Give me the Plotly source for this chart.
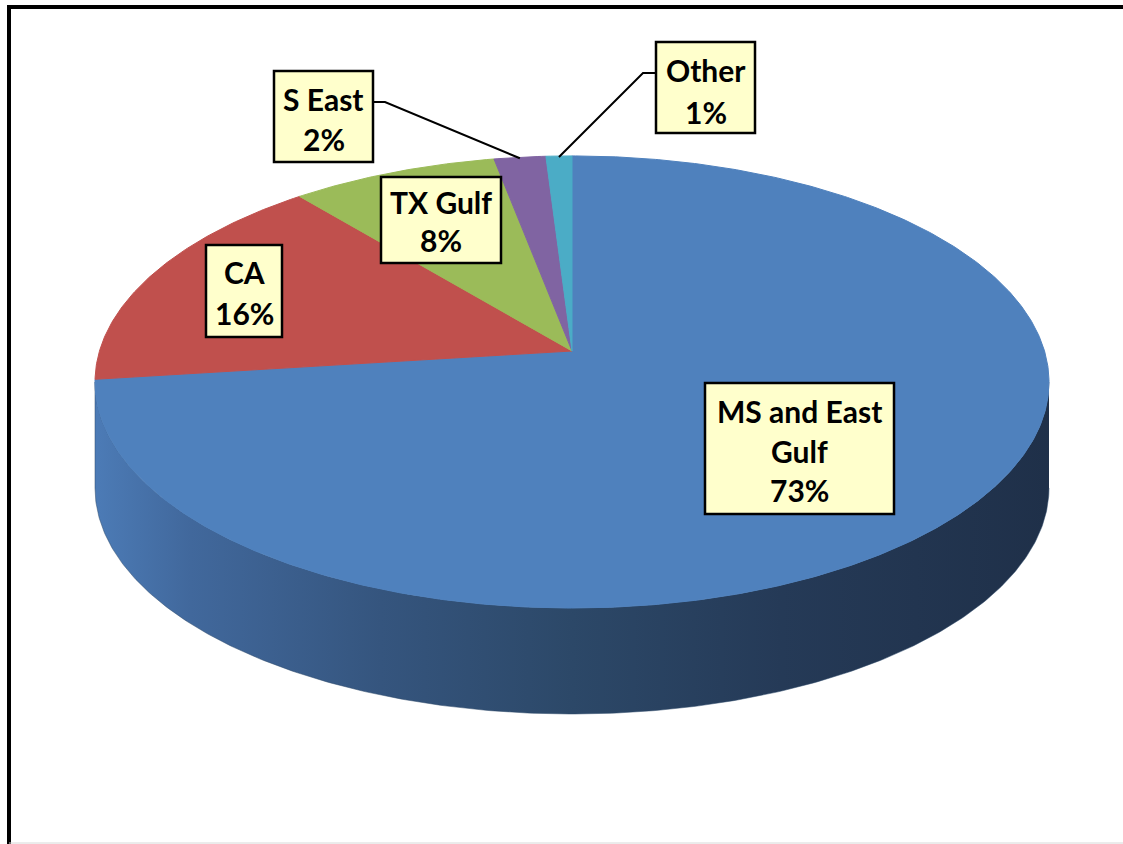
import numpy as np
import plotly.graph_objects as go

# ---------------- data ----------------
categories = ["MS and East Gulf", "CA", "TX Gulf", "S East", "Other"]
values = [73, 16, 8, 2, 1]
colors = ["#4f81bd", "#c0504d", "#9bbb59", "#8064a2", "#4bacc6"]

# label line breaks (layout)
wrapped = {"MS and East Gulf": ["MS and East", "Gulf"]}

# ---------------- geometry (layout constants, pixel space) ----------------
CX, CY = 572.0, 351.0     # apex of the pie on screen
A, B, C = 472.5, 221.8, 0.137  # perspective projection of the unit disc
DEPTH = 106.0

def proj(theta_deg):
    t = np.radians(theta_deg)
    a, b = np.sin(t), np.cos(t)
    w = 1.0 + C * b
    return CX + A * a / w, CY - B * b / w

fig = go.Figure()

# side wall (visible front part)
th_r = np.degrees(np.arccos(-C))
th_l = 360.0 - th_r
ths = np.linspace(th_r, th_l, 300)
sx, sy = proj(ths)
side_x = np.concatenate([sx, sx[::-1]])
side_y = np.concatenate([sy, (sy + DEPTH)[::-1]])
fig.add_trace(go.Scatter(
    x=side_x, y=side_y, mode="lines", fill="toself",
    line=dict(width=0.5, color="#2c4868"),
    fillgradient=dict(type="horizontal", start=float(sx.min()), stop=float(sx.max()),
                      colorscale=[[0.0, "#4c7bb6"], [0.1, "#41689c"], [0.3, "#35557e"],
                                  [0.5, "#2c4868"], [0.72, "#253a57"], [1.0, "#1f3049"]]),
    hoverinfo="skip", showlegend=False))

# top face slices
total = float(sum(values))
cum = 0.0
mids = []
for cat, v, col in zip(categories, values, colors):
    a0 = cum / total * 360.0
    a1 = (cum + v) / total * 360.0
    cum += v
    mids.append((a0 + a1) / 2)
    n = max(int((a1 - a0) * 2), 4)
    px, py = proj(np.linspace(a0, a1, n))
    xs = np.concatenate([[CX], px, [CX]])
    ys = np.concatenate([[CY], py, [CY]])
    fig.add_trace(go.Scatter(
        x=xs, y=ys, mode="lines", fill="toself", fillcolor=col,
        line=dict(width=1, color=col), name=cat,
        hovertemplate=f"{cat}: {v}%<extra></extra>", showlegend=False))

# ---------------- labels (layout positions) ----------------
label_boxes = {
    "MS and East Gulf": (705, 383, 894, 514, [411, 451, 490]),
    "CA": (206, 245, 282, 337, [272, 313]),
    "TX Gulf": (381, 177, 501, 263, [202, 240]),
    "S East": (274, 71, 373, 162, [99, 139]),
    "Other": (656, 42, 755, 133, [70, 112]),
}
leader_start = {"S East": [(373, 102), (385, 102)], "Other": [(656, 73), (643, 73)]}

shapes = []
annotations = []
for i, (cat, v) in enumerate(zip(categories, values)):
    x0, y0, x1, y1, ys = label_boxes[cat]
    if cat in leader_start:
        ax, ay = proj(mids[i])
        pts = leader_start[cat] + [(float(ax), float(ay) + 1)]
        fig.add_trace(go.Scatter(
            x=[p[0] for p in pts], y=[p[1] for p in pts], mode="lines",
            line=dict(color="black", width=2), hoverinfo="skip", showlegend=False))
    shapes.append(dict(type="rect", xref="x", yref="y", x0=x0, y0=y0, x1=x1, y1=y1,
                       fillcolor="#ffffcc", line=dict(color="black", width=2.5), layer="above"))
    lines = wrapped.get(cat, [cat]) + [f"{v}%"]
    for txt, yy in zip(lines, ys):
        annotations.append(dict(x=(x0 + x1) / 2, y=yy, xref="x", yref="y", text=txt,
                                showarrow=False, xanchor="center", yanchor="middle",
                                font=dict(family="Lato", size=30, color="black", weight="bold")))

# frame
shapes.append(dict(type="path", xref="x", yref="y", path="M 9 844 L 9 7 L 1123 7",
                   line=dict(color="black", width=4)))
shapes.append(dict(type="line", xref="x", yref="y", x0=9, y0=843, x1=1123, y1=843,
                   line=dict(color="#d8d8d8", width=1)))

fig.update_layout(
    width=1123, height=844, autosize=False,
    margin=dict(l=0, r=0, t=0, b=0),
    paper_bgcolor="white", plot_bgcolor="white",
    xaxis=dict(range=[0, 1123], visible=False, fixedrange=True),
    yaxis=dict(range=[844, 0], visible=False, fixedrange=True),
    shapes=shapes, annotations=annotations, showlegend=False,
)

fig.write_html("out.html", config={"displayModeBar": False})
